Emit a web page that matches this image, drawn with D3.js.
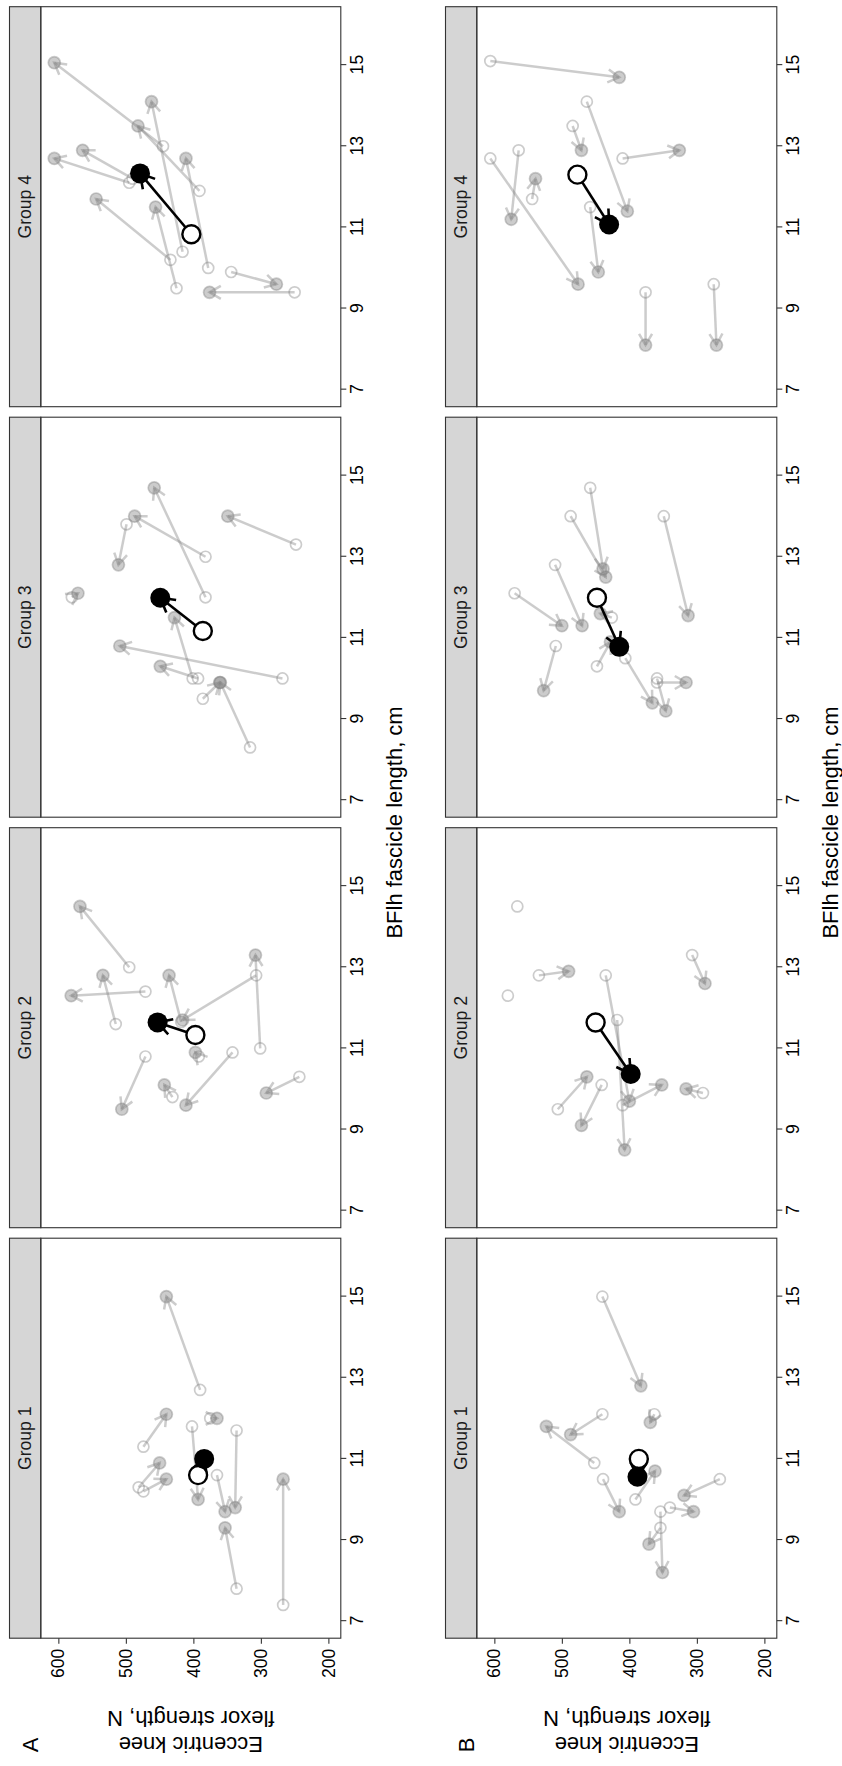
<!DOCTYPE html>
<html>
<head>
<meta charset="utf-8">
<script src="https://cdn.jsdelivr.net/npm/d3@7"></script>
<style>
  body { margin: 0; background: #fff; }
  text { font-family: 'Liberation Sans', Arial, sans-serif; }
</style>
</head>
<body>
<div id="chart"></div>
<script>
// categories / ticks
const groups = ['Group 1', 'Group 2', 'Group 3', 'Group 4'];
const rowLabels = ['A', 'B'];
const xTicks = [7, 9, 11, 13, 15];
const yTicks = [200, 300, 400, 500, 600];
const xTitle = 'BFlh fascicle length, cm';
const yTitle = ['Eccentric knee', 'flexor strength, N'];

// each subject: [pre fascicle, pre strength, post fascicle, post strength]
const a1 = [[7.4, 267, 10.5, 267], [7.8, 336, 9.3, 353], [12.7, 390, 15.0, 440], [11.7, 336, 9.8, 338],
  [11.8, 402, 10.0, 393], [11.3, 474, 12.1, 440], [10.3, 481, 10.9, 450], [10.2, 474, 10.5, 440],
  [12.0, 375, 12.0, 365], [10.6, 365, 9.7, 353]];
const a2 = [[13.0, 495, 14.5, 568], [11.6, 515, 12.8, 534], [12.4, 471, 12.3, 581], [11.65, 418, 12.8, 436],
  [12.8, 307, 11.7, 416], [11.0, 301, 13.3, 308], [10.8, 471, 9.5, 506], [9.8, 431, 10.1, 443],
  [10.9, 342, 9.6, 411], [10.3, 243, 9.9, 292], [10.8, 392, 10.9, 397]];
const a3 = [[12.0, 382, 14.7, 458], [13.0, 382, 14.0, 487], [13.8, 499, 12.8, 511], [13.3, 248, 14.0, 349],
  [12.0, 580, 12.1, 571], [10.0, 401, 11.5, 428], [10.0, 268, 10.8, 509], [10.0, 393, 10.3, 449],
  [8.3, 316, 9.9, 360], [9.5, 386, 9.9, 361]];
const a4 = [[13.0, 445, 15.06, 606], [11.9, 391, 13.5, 482], [10.4, 416, 14.1, 462], [12.1, 495, 12.7, 606],
  [12.2, 490, 12.9, 564], [10.0, 378, 12.7, 411], [10.2, 434, 11.7, 544], [9.5, 425, 11.5, 456],
  [9.9, 344, 9.6, 277], [9.4, 250, 9.4, 376]];
const b1 = [[15.0, 440, 12.8, 383], [10.9, 452, 11.8, 523], [12.1, 440, 11.6, 487], [12.1, 363, 11.9, 369],
  [10.5, 439, 9.7, 415], [10.0, 391, 10.7, 362], [10.5, 266, 10.1, 319], [9.8, 340, 9.7, 305],
  [9.3, 354, 8.9, 371], [9.7, 354, 8.2, 351]];
const b2 = [[14.5, 566, null, null], [12.3, 580, null, null], [12.8, 534, 12.9, 490], [12.8, 435, 9.7, 400],
  [13.3, 307, 12.6, 288], [11.7, 418, 8.5, 407], [9.5, 506, 10.3, 463], [10.1, 441, 9.1, 471],
  [9.6, 410, 10.1, 352], [9.9, 291, 10.0, 316]];
const b3 = [[14.7, 458, 12.7, 439], [14.0, 487, 12.5, 435], [12.8, 510, 11.3, 470], [12.1, 570, 11.3, 500],
  [14.0, 349, 11.55, 313], [10.8, 509, 9.7, 527], [11.5, 426, 11.6, 443], [10.3, 448, 10.9, 428],
  [10.5, 406, 9.4, 366], [10.0, 359, 9.2, 346], [9.9, 359, 9.9, 316]];
const b4 = [[15.1, 606, 14.7, 415], [14.1, 463, 11.4, 403], [13.5, 484, 12.9, 471], [12.7, 410, 12.9, 326],
  [12.7, 606, 9.6, 476], [12.9, 564, 11.2, 575], [11.7, 544, 12.2, 539], [11.5, 458, 9.9, 446],
  [9.4, 376, 8.1, 376], [9.6, 275, 8.1, 271]];

// group means: [pre fascicle, pre strength, post fascicle, post strength]
const meansA = [[10.6, 393, 11.0, 384], [11.33, 397, 11.64, 453], [11.17, 386, 11.99, 449], [10.83, 403, 12.33, 479]];
const meansB = [[11.0, 386, 10.56, 388], [11.64, 450, 10.37, 398], [11.99, 448, 10.78, 415], [12.3, 477, 11.07, 430]];

const subjects = [[a1, a2, a3, a4], [b1, b2, b3, b4]];
const means = [meansA, meansB];

const width = 842;
const height = 1766;

// the figure is drawn landscape and turned a quarter left
const panelLeft = [127.8, 538.3, 948.8, 1359.3];
const panelW = 400;
const rowTop = [9.5, 445.5];
const stripH = 31.3;
const plotH = 300;
const ind = 'rgba(128,128,128,0.4)';

const svg = d3.select('#chart')
  .append('svg')
  .attr('width', width)
  .attr('height', height);

const root = svg.append('g')
  .attr('transform', `translate(0,${height}) rotate(-90)`);

function head(x1, y1, x2, y2, len) {
  const a = Math.atan2(y2 - y1, x2 - x1);
  const p1 = [x2 - len * Math.cos(a - Math.PI / 6), y2 - len * Math.sin(a - Math.PI / 6)];
  const p2 = [x2 - len * Math.cos(a + Math.PI / 6), y2 - len * Math.sin(a + Math.PI / 6)];
  return `M${p1}L${x2},${y2}L${p2}`;
}

rowLabels.forEach((rl, r) => {
  const top = rowTop[r] + stripH;

  groups.forEach((gName, g) => {
    const x0 = panelLeft[g];
    const x = d3.scaleLinear().domain([6.58, 16.44]).range([x0, x0 + panelW]);
    const y = d3.scaleLinear().domain([181.6, 626]).range([top + plotH, top]);
    const p = root.append('g');

    // strip
    p.append('rect')
      .attr('x', x0).attr('y', rowTop[r])
      .attr('width', panelW).attr('height', stripH)
      .attr('fill', '#d6d6d6').attr('stroke', '#333').attr('stroke-width', 1.1);
    p.append('text')
      .attr('x', x0 + panelW / 2).attr('y', rowTop[r] + stripH / 2)
      .attr('text-anchor', 'middle').attr('dominant-baseline', 'central')
      .attr('font-size', '17.6px').attr('fill', '#1a1a1a')
      .text(gName);

    // x axis
    const xa = p.append('g')
      .attr('transform', `translate(0,${top + plotH})`)
      .call(d3.axisBottom(x).tickValues(xTicks).tickSize(5.5).tickPadding(4));
    xa.select('.domain').remove();
    xa.selectAll('line').attr('stroke', '#333').attr('stroke-width', 1.1);
    xa.selectAll('text').attr('font-size', '17.6px').attr('fill', '#000')
      .style('font-family', "'Liberation Sans', Arial, sans-serif");

    if (g === 0) {
      const ya = p.append('g')
        .attr('transform', `translate(${x0},0)`)
        .call(d3.axisLeft(y).tickValues(yTicks).tickSize(5.5).tickPadding(5));
      ya.select('.domain').remove();
      ya.selectAll('line').attr('stroke', '#333').attr('stroke-width', 1.1);
      ya.selectAll('text').attr('font-size', '17.6px').attr('fill', '#000')
        .style('font-family', "'Liberation Sans', Arial, sans-serif");
    }

    // individual changes
    const rows = subjects[r][g];
    const moved = rows.filter(d => d[2] !== null);

    p.selectAll('line.ind')
      .data(moved)
      .join('line')
      .attr('class', 'ind')
      .attr('x1', d => x(d[0])).attr('y1', d => y(d[1]))
      .attr('x2', d => x(d[2])).attr('y2', d => y(d[3]))
      .attr('stroke', ind).attr('stroke-width', 2.5);

    p.selectAll('path.ind')
      .data(moved)
      .join('path')
      .attr('class', 'ind')
      .attr('d', d => head(x(d[0]), y(d[1]), x(d[2]), y(d[3]), 13))
      .attr('fill', 'none').attr('stroke', ind).attr('stroke-width', 2.5);

    p.selectAll('circle.pre')
      .data(rows)
      .join('circle')
      .attr('class', 'pre')
      .attr('cx', d => x(d[0])).attr('cy', d => y(d[1])).attr('r', 5.5)
      .attr('fill', 'none').attr('stroke', ind).attr('stroke-width', 1.7);

    p.selectAll('circle.post')
      .data(moved)
      .join('circle')
      .attr('class', 'post')
      .attr('cx', d => x(d[2])).attr('cy', d => y(d[3])).attr('r', 6)
      .attr('fill', ind).attr('stroke', ind).attr('stroke-width', 1.7);

    // group mean
    const m = means[r][g];
    p.append('line')
      .attr('x1', x(m[0])).attr('y1', y(m[1]))
      .attr('x2', x(m[2])).attr('y2', y(m[3]))
      .attr('stroke', '#000').attr('stroke-width', 2.6);
    p.append('path')
      .attr('d', head(x(m[0]), y(m[1]), x(m[2]), y(m[3]), 16))
      .attr('fill', 'none').attr('stroke', '#000').attr('stroke-width', 2.6);
    p.append('circle')
      .attr('cx', x(m[0])).attr('cy', y(m[1])).attr('r', 9)
      .attr('fill', '#fff').attr('stroke', '#000').attr('stroke-width', 2.4);
    p.append('circle')
      .attr('cx', x(m[2])).attr('cy', y(m[3])).attr('r', 10)
      .attr('fill', '#000');

    // panel border
    p.append('rect')
      .attr('x', x0).attr('y', top)
      .attr('width', panelW).attr('height', plotH)
      .attr('fill', 'none').attr('stroke', '#333').attr('stroke-width', 1.1);
  });

  // y title, two lines
  const yc = top + plotH / 2;
  yTitle.forEach((t, i) => {
    root.append('text')
      .attr('transform', `translate(${22 + i * 26},${yc}) rotate(-90)`)
      .attr('text-anchor', 'middle').attr('dominant-baseline', 'central')
      .attr('font-size', '22px').attr('fill', '#000')
      .text(t);
  });

  // x title
  root.append('text')
    .attr('x', (panelLeft[0] + panelLeft[3] + panelW) / 2)
    .attr('y', top + plotH + 54)
    .attr('text-anchor', 'middle').attr('dominant-baseline', 'central')
    .attr('font-size', '22px').attr('fill', '#000')
    .text(xTitle);

  // panel letter
  root.append('text')
    .attr('x', 21).attr('y', rowTop[r] + 21)
    .attr('text-anchor', 'middle').attr('dominant-baseline', 'central')
    .attr('font-size', '22px').attr('fill', '#000')
    .text(rl);
});
</script>
</body>
</html>
